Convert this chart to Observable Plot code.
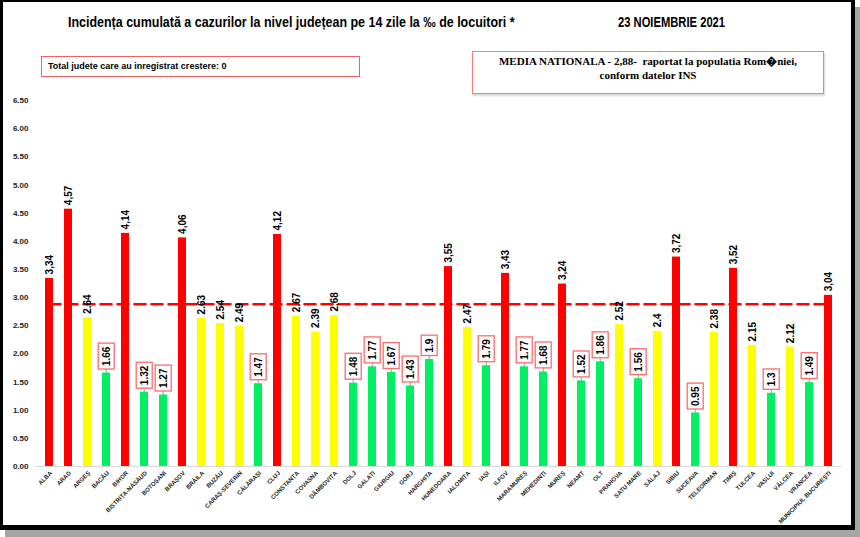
<!DOCTYPE html>
<html>
<head>
<meta charset="utf-8">
<script src="https://cdn.jsdelivr.net/npm/d3@7"></script>
<script src="https://cdn.jsdelivr.net/npm/@observablehq/plot@0.6"></script>
<style>
  body { margin: 0; background: #fff; }
  #wrap { position: relative; width: 860px; height: 537px; overflow: hidden; background: #fff; }
  #chart { position: absolute; left: 0; top: 0; }
  .frame { position: absolute; left: 0; top: 0; width: 855px; height: 530px; box-sizing: border-box;
           border-style: solid; border-color: #000; border-width: 2px 4px 5px 3px;
           box-shadow: 5px 7px 0 #a6a6a6; pointer-events: none; }
  .title { position: absolute; top: 14px; line-height: 17px; white-space: nowrap; transform-origin: 0 50%;
           font-family: "Liberation Sans", Arial, sans-serif; font-weight: bold; font-size: 14px; color: #000; }
  .boxL { position: absolute; left: 41px; top: 56px; width: 319px; height: 21px; box-sizing: border-box;
          border: 1.3px solid #f06262; padding-left: 6px; line-height: 19px; white-space: nowrap;
          font-family: "Liberation Sans", Arial, sans-serif; font-weight: bold; font-size: 9px; }
  .boxR { position: absolute; left: 472px; top: 51px; width: 352px; height: 43px; box-sizing: border-box;
          border: 1.5px solid #ff7b7b; text-align: center; padding-top: 3px; line-height: 13.5px;
          font-family: "Liberation Serif", "Times New Roman", serif; font-weight: bold; font-size: 11px;
          box-shadow: 1px 2px 2px #d8d8d8; }
</style>
</head>
<body>
<div id="wrap">
  <div id="chart"></div>
  <div class="title" style="left:68px; transform: scaleX(0.89)">Incidența cumulată a cazurilor la nivel județean pe 14 zile la ‰ de locuitori *</div>
  <div class="title" style="left:618px; transform: scaleX(0.8)">23 NOIEMBRIE 2021</div>
  <div class="boxL">Total judete care au inregistrat crestere: 0</div>
  <div class="boxR">MEDIA NATIONALA - 2,88-&nbsp; raportat la populatia Rom&#xFFFD;niei,<br>conform datelor INS</div>
  <div class="frame"></div>
</div>
<script>
const counties = ["ALBA","ARAD","ARGEȘ","BACĂU","BIHOR","BISTRIȚA-NĂSĂUD","BOTOȘANI","BRAȘOV","BRĂILA","BUZĂU",
  "CARAȘ-SEVERIN","CĂLĂRAȘI","CLUJ","CONSTANȚA","COVASNA","DÂMBOVIȚA","DOLJ","GALAȚI","GIURGIU","GORJ",
  "HARGHITA","HUNEDOARA","IALOMIȚA","IAȘI","ILFOV","MARAMUREȘ","MEHEDINȚI","MUREȘ","NEAMȚ","OLT",
  "PRAHOVA","SATU MARE","SĂLAJ","SIBIU","SUCEAVA","TELEORMAN","TIMIȘ","TULCEA","VASLUI","VÂLCEA",
  "VRANCEA","MUNICIPIUL BUCUREȘTI"];
const incidence = [3.34,4.57,2.64,1.66,4.14,1.32,1.27,4.06,2.63,2.54,
  2.49,1.47,4.12,2.67,2.39,2.68,1.48,1.77,1.67,1.43,
  1.9,3.55,2.47,1.79,3.43,1.77,1.68,3.24,1.52,1.86,
  2.52,1.56,2.4,3.72,0.95,2.38,3.52,2.15,1.3,2.12,
  1.49,3.04];
const nationalAverage = 2.88;
const lowThreshold = 2;
const statusDomain = ["sub 2", "2 - media", "peste media"];
const statusColors = ["#00ef63", "#ffff00", "#ff0000"];
const yTicks = [0, 0.5, 1, 1.5, 2, 2.5, 3, 3.5, 4, 4.5, 5, 5.5, 6, 6.5];

const data = counties.map((c, i) => {
  const v = incidence[i];
  const status = v > nationalAverage ? "peste media" : (v >= lowThreshold ? "2 - media" : "sub 2");
  return {county: c, value: v, status};
});
const label = d => d.status === "peste media" ? String(d.value).replace(".", ",") : String(d.value);

const sans = '"Liberation Sans", Arial, sans-serif';
const boxedOffset = -7;

const plot = Plot.plot({
  width: 860,
  height: 537,
  marginLeft: 35,
  marginRight: 19,
  marginTop: 100,
  marginBottom: 71,
  style: {background: "transparent", fontFamily: sans, fontSize: "8px", fontWeight: "bold", color: "#222"},
  x: {domain: counties, paddingInner: 0.6, paddingOuter: 0.2, axis: null},
  y: {domain: [0, 6.5], ticks: yTicks, tickFormat: d3.format(".2f"), tickSize: 0, tickPadding: 7, label: null},
  color: {domain: statusDomain, range: statusColors},
  marks: [
    Plot.ruleY([0], {stroke: "#d9d9d9", strokeWidth: 1}),
    Plot.barY(data, {x: "county", y: "value", fill: "status"}),
    Plot.lineY(data, {x: "county", y: () => nationalAverage, stroke: "#ff0000", strokeWidth: 2.5, strokeDasharray: "11,6"}),
    Plot.text(data, {x: "county", text: "county", frameAnchor: "bottom", rotate: -45, textAnchor: "end",
      dx: 3, dy: 7, fontSize: 6, fontWeight: "bold", fontFamily: sans, fill: "#222"}),
    Plot.text(data.filter(d => d.status !== "sub 2"), {x: "county", y: "value", text: label, rotate: -90,
      textAnchor: "start", dy: -4, fontSize: 10, fontWeight: "bold", fontFamily: sans, fill: "#000"}),
    Plot.text(data.filter(d => d.status === "sub 2"), {x: "county", y: "value", text: label, rotate: -90,
      textAnchor: "start", dy: boxedOffset, fontSize: 10, fontWeight: "bold", fontFamily: sans, fill: "#000",
      ariaDescription: "boxed-labels"})
  ]
});
document.getElementById("chart").append(plot);

// white boxes with red border behind the green-bar labels, plus gray leader lines
const NS = "http://www.w3.org/2000/svg";
const pad = 3;
let boxedGroup = plot.querySelector('g[aria-description="boxed-labels"]');
if (!boxedGroup) {
  const textGroups = plot.querySelectorAll('g[aria-label="text"]');
  boxedGroup = textGroups[textGroups.length - 1];
}
boxedGroup.querySelectorAll("text").forEach(function(el) {
  const bb = el.getBBox();
  const t = el.getAttribute("transform");
  const parent = el.parentNode;
  const rect = document.createElementNS(NS, "rect");
  rect.setAttribute("x", bb.x - pad);
  rect.setAttribute("y", bb.y - pad + 0.5);
  rect.setAttribute("width", bb.width + 2 * pad);
  rect.setAttribute("height", bb.height + 2 * pad - 1);
  rect.setAttribute("transform", t);
  rect.setAttribute("fill", "#fff");
  rect.setAttribute("stroke", "#ff6b6b");
  rect.setAttribute("stroke-width", "1.3");
  parent.insertBefore(rect, el);
  const line = document.createElementNS(NS, "line");
  const cy = bb.y + bb.height / 2;
  line.setAttribute("x1", boxedOffset);
  line.setAttribute("x2", bb.x - pad);
  line.setAttribute("y1", cy);
  line.setAttribute("y2", cy);
  line.setAttribute("transform", t);
  line.setAttribute("stroke", "#9a9a9a");
  line.setAttribute("stroke-width", "1");
  parent.insertBefore(line, rect);
});
</script>
</body>
</html>
